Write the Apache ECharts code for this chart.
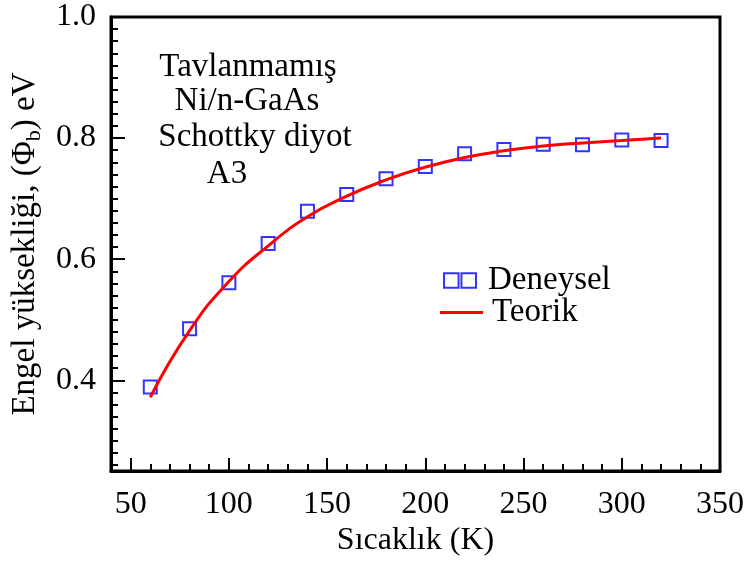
<!DOCTYPE html>
<html>
<head>
<meta charset="utf-8">
<script src="https://cdn.jsdelivr.net/npm/echarts@6/dist/echarts.min.js"></script>
<style>
  html, body { margin: 0; padding: 0; background: #fff; }
  #chart { width: 748px; height: 562px; }
</style>
</head>
<body>
<div id="chart"></div>
<script>
// Temperatures (K)
var temps = [60, 80, 100, 120, 140, 160, 180, 200, 220, 240, 260, 280, 300, 320];
// Measured barrier height (eV)
var deneysel = [0.389, 0.485, 0.561, 0.626, 0.679, 0.707, 0.733, 0.753, 0.774, 0.781, 0.790, 0.789, 0.797, 0.796];
// Model curve (eV)
var teorik = [0.372, 0.482, 0.563, 0.622, 0.670, 0.704, 0.731, 0.752, 0.768, 0.779, 0.787, 0.792, 0.796, 0.800];

// Axis ticks
var xMajor = [50, 100, 150, 200, 250, 300, 350];
var xMinor = [40, 60, 70, 80, 90, 110, 120, 130, 140, 160, 170, 180, 190, 210, 220, 230, 240,
              260, 270, 280, 290, 310, 320, 330, 340];
var yMajor = [0.4, 0.6, 0.8, 1.0];
var yMinor = [0.26, 0.28, 0.30, 0.32, 0.34, 0.36, 0.38, 0.42, 0.44, 0.46, 0.48, 0.50, 0.52, 0.54,
              0.56, 0.58, 0.62, 0.64, 0.66, 0.68, 0.70, 0.72, 0.74, 0.76, 0.78, 0.82, 0.84, 0.86,
              0.88, 0.90, 0.92, 0.94, 0.96, 0.98];

var FONT = 'Liberation Serif';

function pairs(xs, ys) {
  return xs.map(function (x, i) { return [x, ys[i]]; });
}

var chart = echarts.init(document.getElementById('chart'), null, { renderer: 'canvas' });

var baseX = { type: 'value', min: 40, max: 350, position: 'bottom', splitLine: { show: false } };
var baseY = { type: 'value', min: 0.25, max: 1.0, position: 'left', splitLine: { show: false } };

chart.setOption({
  animation: false,
  backgroundColor: '#fff',
  grid: {
    left: 111, right: 28, top: 17, bottom: 88,
    show: true, borderColor: '#000', borderWidth: 3, backgroundColor: 'transparent'
  },
  xAxis: [
    Object.assign({}, baseX, {
      name: 'Sıcaklık (K)',
      nameLocation: 'middle',
      nameGap: 53,
      nameTextStyle: { fontFamily: FONT, fontSize: 32, color: '#000' },
      axisLine: { show: true, lineStyle: { color: '#000', width: 3 } },
      axisTick: { show: true, inside: true, length: 13, customValues: xMajor, lineStyle: { color: '#000', width: 2 } },
      axisLabel: { show: true, customValues: xMajor, margin: 17, fontFamily: FONT, fontSize: 32, color: '#000' }
    }),
    Object.assign({}, baseX, {
      axisLine: { show: false },
      axisTick: { show: true, inside: true, length: 7, customValues: xMinor, lineStyle: { color: '#000', width: 2 } },
      axisLabel: { show: false }
    })
  ],
  yAxis: [
    Object.assign({}, baseY, {
      name: '{a|Engel yüksekliği, (Φ}{b|b}{a|) eV}',
      nameLocation: 'middle',
      nameGap: 55,
      nameRotate: 90,
      nameTextStyle: {
        fontFamily: FONT, fontSize: 33, color: '#000',
        rich: {
          a: { fontFamily: FONT, fontSize: 33, color: '#000', lineHeight: 40 },
          b: { fontFamily: FONT, fontSize: 22, color: '#000', lineHeight: 20, verticalAlign: 'bottom' }
        }
      },
      axisLine: { show: true, lineStyle: { color: '#000', width: 3 } },
      axisTick: { show: true, inside: true, length: 14, customValues: yMajor, lineStyle: { color: '#000', width: 2 } },
      axisLabel: {
        show: true, customValues: yMajor, margin: 15, fontFamily: FONT, fontSize: 32, color: '#000',
        formatter: function (v) { return v.toFixed(1); }
      }
    }),
    Object.assign({}, baseY, {
      axisLine: { show: false },
      axisTick: { show: true, inside: true, length: 7, customValues: yMinor, lineStyle: { color: '#000', width: 2 } },
      axisLabel: { show: false }
    })
  ],
  legend: [
    {
      left: 443, top: 264, padding: 0,
      itemWidth: 32, itemHeight: 15,
      selectedMode: false,
      data: [{ name: 'Deneysel', icon: 'path://M0,0H10V10H0Z M12,0H22V10H12Z' }],
      textStyle: { fontFamily: FONT, fontSize: 33, color: '#000', padding: [0, 0, 0, 7] }
    },
    {
      left: 440, top: 296, padding: 0,
      itemWidth: 43, itemHeight: 3,
      selectedMode: false,
      data: [{
        name: 'Teorik',
        icon: 'path://M0,0H43V3H0Z',
        itemStyle: { color: '#ff0000', borderWidth: 0 }
      }],
      textStyle: { fontFamily: FONT, fontSize: 33, color: '#000', padding: [0, 0, 0, 4] }
    }
  ],
  graphic: [
    { type: 'text', x: 248, y: 67, style: { text: 'Tavlanmamış', font: '33px "Liberation Serif"', fill: '#000', align: 'center', verticalAlign: 'middle' } },
    { type: 'text', x: 247, y: 101, style: { text: 'Ni/n-GaAs', font: '33px "Liberation Serif"', fill: '#000', align: 'center', verticalAlign: 'middle' } },
    { type: 'text', x: 255, y: 137, style: { text: 'Schottky diyot', font: '33px "Liberation Serif"', fill: '#000', align: 'center', verticalAlign: 'middle' } },
    { type: 'text', x: 227, y: 174, style: { text: 'A3', font: '33px "Liberation Serif"', fill: '#000', align: 'center', verticalAlign: 'middle' } }
  ],
  series: [
    {
      name: 'Deneysel',
      type: 'scatter',
      xAxisIndex: 0, yAxisIndex: 0,
      data: pairs(temps, deneysel),
      symbol: 'rect',
      symbolSize: 13,
      itemStyle: { color: 'rgba(0,0,0,0)', borderColor: '#0000ff', borderWidth: 2 },
      emphasis: { disabled: true },
      z: 2
    },
    {
      name: 'Teorik',
      type: 'line',
      xAxisIndex: 0, yAxisIndex: 0,
      data: pairs(temps, teorik),
      smooth: true,
      symbol: 'none',
      lineStyle: { color: '#ff0000', width: 3 },
      itemStyle: { color: '#ff0000' },
      emphasis: { disabled: true },
      z: 3
    }
  ]
});
</script>
</body>
</html>
